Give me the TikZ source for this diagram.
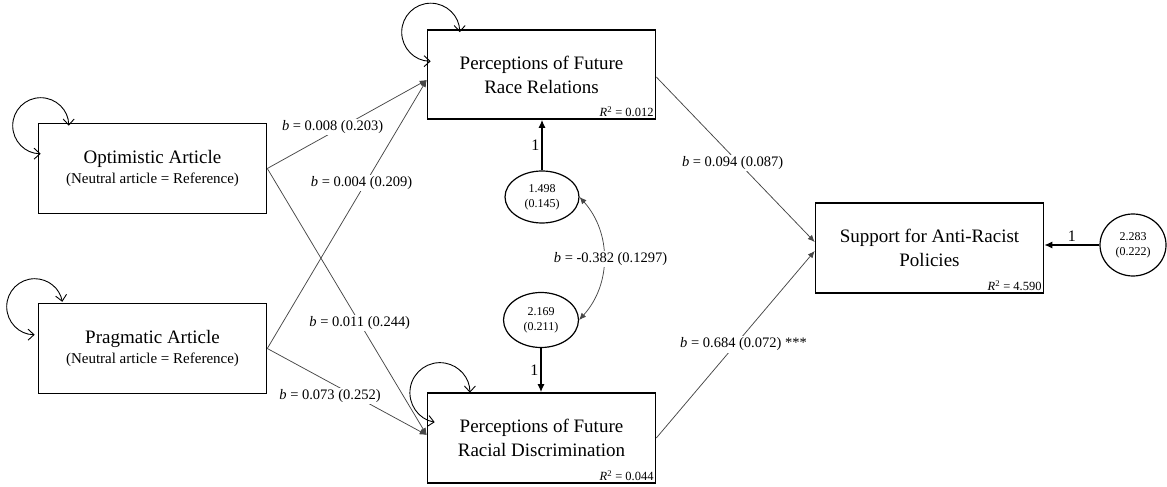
\documentclass[tikz,border=0pt]{standalone}
\usepackage{fontspec}
\setmainfont{Liberation Serif}
\usetikzlibrary{shapes.geometric,arrows.meta,calc}
\newcommand\ttlf{\fontsize{19}{24}\selectfont}
\newcommand\subf{\fontsize{15}{18}\selectfont}
\newcommand\lblf{\fontsize{14.5}{17}\selectfont}
\newcommand\elf{\fontsize{12}{15}\selectfont}
\newcommand\rsqf{\fontsize{12.5}{14}\selectfont}
\newcommand\onef{\fontsize{16}{17}\selectfont}
\begin{document}
\begin{tikzpicture}[x=1pt,y=1pt,
  box/.style={draw, line width=1.6pt, minimum width=228pt, minimum height=90pt, inner sep=0pt, align=center, font=\ttlf},
  var/.style={draw, ellipse, line width=1.2pt, inner sep=0pt, align=center, font=\elf},
  path/.style={draw=black!72, line width=0.75pt, -{Latex[length=7pt,width=6pt]}},
  cov/.style={draw=black!72, line width=0.75pt, {Latex[length=7pt,width=6pt]}-{Latex[length=7pt,width=6pt]}},
  fix/.style={draw, line width=1.3pt, -{Latex[length=8pt,width=7pt]}},
  selfloop/.style={draw, line width=0.9pt, {Straight Barb[length=6pt,width=11pt]}-{Straight Barb[length=6pt,width=11pt]}},
  lbl/.style={fill=white, inner sep=1.5pt, font=\lblf},
  rsq/.style={anchor=south east, inner sep=2.5pt, font=\rsqf},
  onelbl/.style={font=\onef, inner sep=2pt}
]
\useasboundingbox (0,0) rectangle (1167,487);

% boxes
\node[box] (opt) at (152.5,318.5) {Optimistic Article\\[-4pt]{\subf (Neutral article = Reference)}};
\node[box] (prag) at (152.5,138.5) {Pragmatic Article\\[-4pt]{\subf (Neutral article = Reference)}};
\node[box, minimum height=89pt] (race) at (541.5,412.5) {Perceptions of Future\\Race Relations};
\node[box] (disc) at (541.5,49) {Perceptions of Future\\Racial Discrimination};
\node[box] (supp) at (929.5,239) {Support for Anti-Racist\\Policies};

\node[rsq] (r1) at (race.south east) {\textit{R}\textsuperscript{2} = 0.012};
\node[rsq] (r2) at (disc.south east) {\textit{R}\textsuperscript{2} = 0.044};
\node[rsq] (r3) at (supp.south east) {\textit{R}\textsuperscript{2} = 4.590};

% residual variances
\node[var, minimum width=74pt, minimum height=52pt] (e1) at (542,290) {1.498\\(0.145)};
\node[var, minimum width=75pt, minimum height=55pt] (e2) at (541,167) {2.169\\(0.211)};
\node[var, minimum width=66pt, minimum height=62pt] (e3) at (1133,242) {2.283\\(0.222)};

% self loops
\draw[selfloop] ($(opt.north west)+(3,-3-28)$) arc[start angle=270, end angle=0, radius=28pt];
\draw[selfloop] ($(prag.north west)+(-3,-4-28)$) arc[start angle=270, end angle=10, radius=28pt];
\draw[selfloop] ($(race.north west)+(4,-3-29)$) arc[start angle=270, end angle=0, radius=29pt];
\draw[selfloop] ($(disc.north west)+(8,0-30)$) arc[start angle=260, end angle=0, radius=30pt];

% paths
\draw[path] (opt.east) -- ($(race.west)+(0,-5.5)$) node[lbl, pos=0.41, yshift=5pt] (l1) {\textit{b} = 0.008 (0.203)};
\draw[path] (prag.east) -- ($(race.west)+(0,-5.5)$) node[lbl, pos=0.616, xshift=-4pt] (l2) {\textit{b} = 0.004 (0.209)};
\draw[path] (opt.east) -- ($(disc.west)+(0,3)$) node[lbl, pos=0.58] (l3) {\textit{b} = 0.011 (0.244)};
\draw[path] (prag.east) -- ($(disc.west)+(0,3)$) node[lbl, pos=0.5, xshift=-17pt, yshift=-4pt] (l4) {\textit{b} = 0.073 (0.252)};
\draw[path] ($(race.east)+(0,-2.5)$) -- ($(supp.west)+(0,6)$) node[lbl, pos=0.52, xshift=-6pt] (l5) {\textit{b} = 0.094 (0.087)};
\draw[path] (disc.east) -- ($(supp.west)+(0,-3)$) node[lbl, pos=0.5, xshift=8pt] (l6) {\textit{b} = 0.684 (0.072) ***};

% covariance
\draw[cov] (e1.east) to[bend left=42] node[lbl, pos=0.5, xshift=7pt] (l7) {\textit{b} = -0.382 (0.1297)} (e2.east);

% fixed loadings
\draw[fix] (e1.north) -- (e1.north |- race.south) node[onelbl, pos=0.5, left] (o1) {1};
\draw[fix] (e2.south) -- (e2.south |- disc.north) node[onelbl, pos=0.5, left] (o2) {1};
\draw[fix] (e3.west) -- (e3.west -| supp.east) node[onelbl, pos=0.5, above, yshift=1pt] (o3) {1};
\end{tikzpicture}
\end{document}
